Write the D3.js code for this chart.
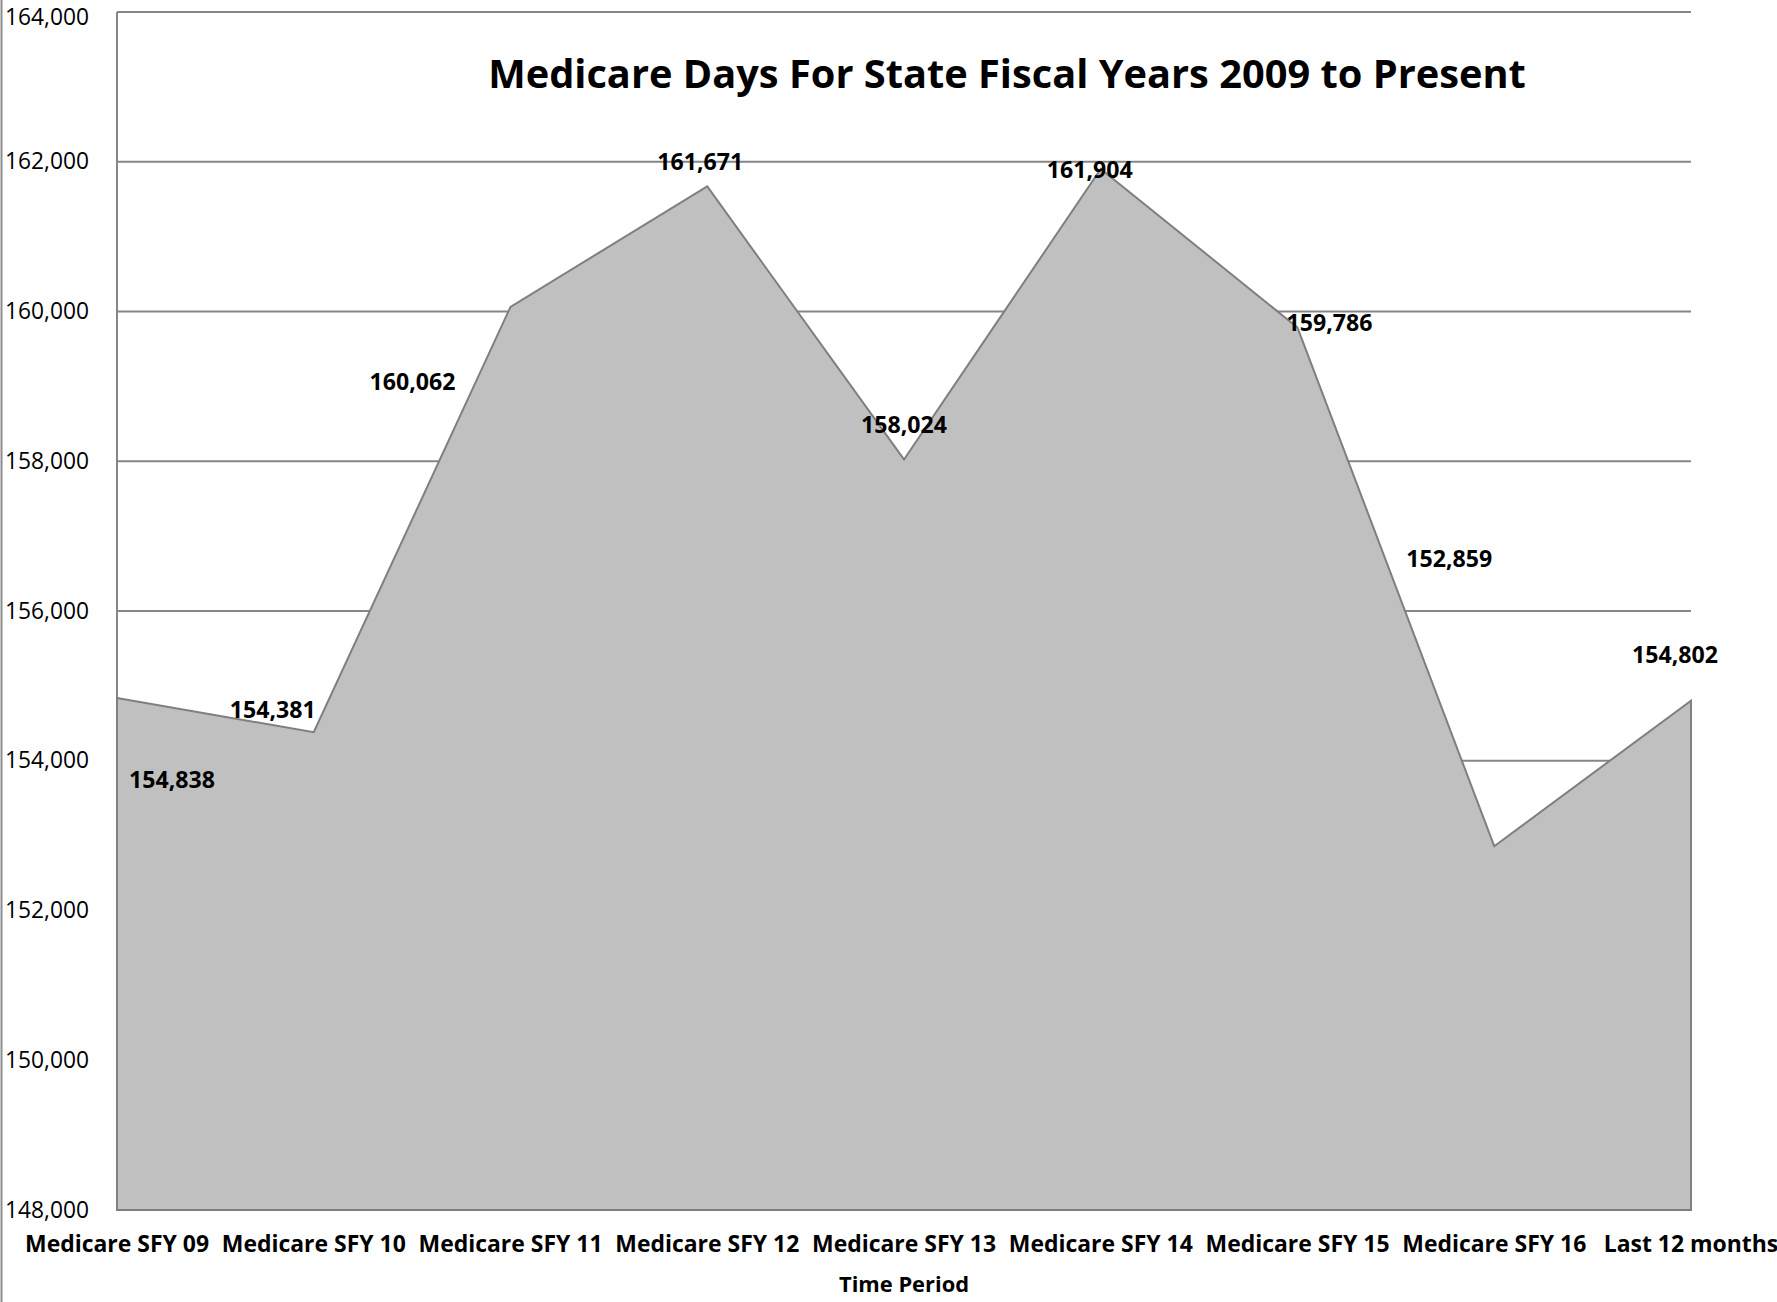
<!DOCTYPE html>
<html>
<head>
<meta charset="utf-8">
<script src="https://cdn.jsdelivr.net/npm/d3@7"></script>
<style>
  body { margin: 0; background: #fff; }
  text { font-family: "Open Sans", "Noto Sans", sans-serif; fill: #000; }
</style>
</head>
<body>
<div id="chart"></div>
<script>
// chart data
var periods = ["Medicare SFY 09", "Medicare SFY 10", "Medicare SFY 11", "Medicare SFY 12",
  "Medicare SFY 13", "Medicare SFY 14", "Medicare SFY 15", "Medicare SFY 16", "Last 12 months"];
var days = [154838, 154381, 160062, 161671, 158024, 161904, 159786, 152859, 154802];
var yTicks = [148000, 150000, 152000, 154000, 156000, 158000, 160000, 162000, 164000];
var chartTitle = "Medicare Days For State Fiscal Years 2009 to Present";
var xTitle = "Time Period";

// where excel dropped each data label, relative to its point
var labelShift = [[55, 82], [-41, -22], [-98, 75], [-7, -24], [0, -35],
  [-11, 1], [32, -5], [-45, -287], [-16, -46]];

var W = 1777, H = 1302;
var margin = {left: 117, right: 86, top: 12, bottom: 92};

var svg = d3.select("#chart").append("svg")
  .attr("width", W).attr("height", H);

var x = d3.scalePoint().domain(periods).range([margin.left, W - margin.right]);
var y = d3.scaleLinear().domain([148000, 164000]).range([H - margin.bottom, margin.top]);

// scale font so a sample string is the given width
function fitFont(sel, target) {
  var n = sel.node();
  var w = n.getComputedTextLength();
  var size = parseFloat(sel.attr("font-size"));
  sel.attr("font-size", (size * target / w).toFixed(2));
  return +sel.attr("font-size");
}

// left border of the picture
svg.append("line")
  .attr("x1", 1.5).attr("x2", 1.5).attr("y1", 0).attr("y2", H)
  .attr("stroke", "#8c8c8c").attr("stroke-width", 2);

// gridlines
svg.append("g").selectAll("line")
  .data(yTicks)
  .enter().append("line")
    .attr("x1", margin.left).attr("x2", W - margin.right)
    .attr("y1", function(d) { return y(d); })
    .attr("y2", function(d) { return y(d); })
    .attr("stroke", "#868686").attr("stroke-width", 2);

// y axis line
svg.append("line")
  .attr("x1", margin.left).attr("x2", margin.left)
  .attr("y1", margin.top).attr("y2", H - margin.bottom)
  .attr("stroke", "#868686").attr("stroke-width", 2);

// area
var area = d3.area()
  .x(function(d, i) { return x(periods[i]); })
  .y0(y(148000))
  .y1(function(d) { return y(d); });

svg.append("path")
  .datum(days)
  .attr("d", area)
  .attr("fill", "#c0c0c0")
  .attr("stroke", "#7f7f7f")
  .attr("stroke-width", 2)
  .attr("stroke-linejoin", "miter");

// y tick labels
var probe = svg.append("text").attr("font-size", 20).text(d3.format(",")(164000));
var tickSize = fitFont(probe, 84);
probe.remove();

svg.append("g").selectAll("text")
  .data(yTicks)
  .enter().append("text")
    .attr("x", 5)
    .attr("y", function(d) { return Math.max(y(d), 17); })
    .attr("dy", "0.33em")
    .attr("font-size", tickSize)
    .text(d3.format(","));

// x category labels
probe = svg.append("text").attr("font-size", 20).attr("font-weight", "bold").text(periods[0]);
var catSize = fitFont(probe, 184);
probe.remove();

svg.append("g").selectAll("text")
  .data(periods)
  .enter().append("text")
    .attr("x", function(d) { return x(d); })
    .attr("y", 1252)
    .attr("text-anchor", "middle")
    .attr("font-weight", "bold")
    .attr("font-size", catSize)
    .text(function(d) { return d; });

// data labels
probe = svg.append("text").attr("font-size", 20).attr("font-weight", "bold").text("152,859");
var lblSize = fitFont(probe, 86);
probe.remove();

svg.append("g").selectAll("text")
  .data(days)
  .enter().append("text")
    .attr("x", function(d, i) { return x(periods[i]) + labelShift[i][0]; })
    .attr("y", function(d, i) { return y(d) + labelShift[i][1]; })
    .attr("dy", "0.35em")
    .attr("text-anchor", "middle")
    .attr("font-weight", "bold")
    .attr("font-size", lblSize)
    .text(d3.format(","));

// axis title
var xt = svg.append("text")
  .attr("x", (margin.left + W - margin.right) / 2)
  .attr("y", 1292)
  .attr("text-anchor", "middle")
  .attr("font-weight", "bold")
  .attr("font-size", 20)
  .text(xTitle);
fitFont(xt, 130);

// chart title
var tt = svg.append("text")
  .attr("x", 1007)
  .attr("y", 88)
  .attr("text-anchor", "middle")
  .attr("font-weight", "bold")
  .attr("font-size", 40)
  .text(chartTitle);
fitFont(tt, 1038);
</script>
</body>
</html>
